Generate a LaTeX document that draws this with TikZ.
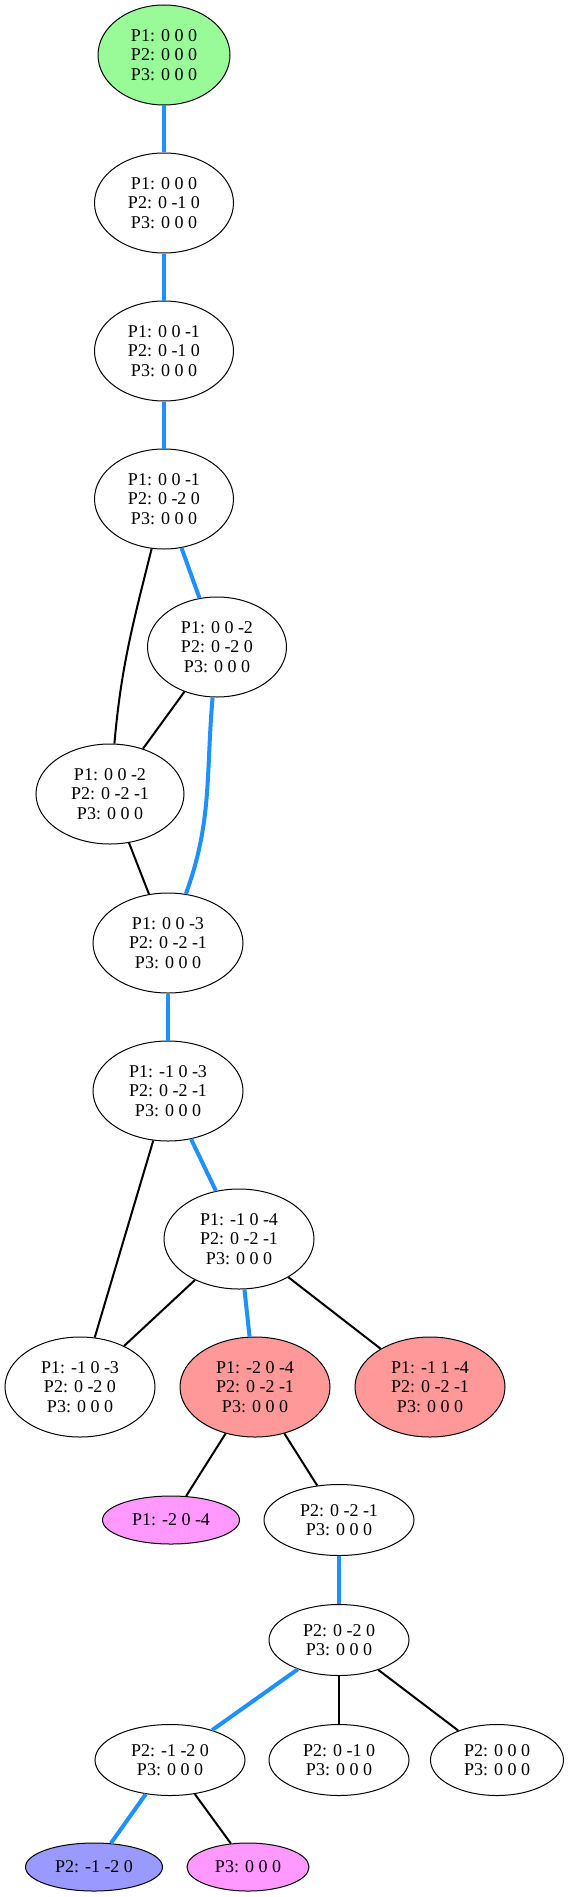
\documentclass[tikz,border=0pt]{standalone}
\usepackage{fontspec}
\setmainfont{Liberation Serif}
\usetikzlibrary{shapes.geometric}
\definecolor{pgreen}{RGB}{152,251,152}
\definecolor{pred}{RGB}{255,153,153}
\definecolor{pmag}{RGB}{255,153,255}
\definecolor{pblue}{RGB}{153,153,255}
\definecolor{dblue}{RGB}{30,144,255}
\begin{document}
\begin{tikzpicture}[x=1pt,y=-1pt,
  st/.style={ellipse,draw=black,line width=1pt,inner sep=0pt,align=center,
    font=\fontsize{18}{19.2}\selectfont},
  sz/.style 2 args={minimum width=#1pt,minimum height=#2pt},
  bl/.style={draw=dblue,line width=4pt},
  bk/.style={draw=black,line width=2pt}]
\useasboundingbox (0,0) rectangle (568,1897);
\node[st,fill=pgreen,sz={132}{100}] (n1) at (164,55) {P1: 0 0 0\\P2: 0 0 0\\P3: 0 0 0};
\node[st,sz={139}{100}] (n2) at (164,203) {P1: 0 0 0\\P2: 0 -1 0\\P3: 0 0 0};
\node[st,sz={139}{100}] (n3) at (164,351) {P1: 0 0 -1\\P2: 0 -1 0\\P3: 0 0 0};
\node[st,sz={139}{100}] (n4) at (164,499) {P1: 0 0 -1\\P2: 0 -2 0\\P3: 0 0 0};
\node[st,sz={139}{100}] (n5) at (217,647) {P1: 0 0 -2\\P2: 0 -2 0\\P3: 0 0 0};
\node[st,sz={148}{100}] (n6) at (110,794) {P1: 0 0 -2\\P2: 0 -2 -1\\P3: 0 0 0};
\node[st,sz={150}{100}] (n7) at (168,943) {P1: 0 0 -3\\P2: 0 -2 -1\\P3: 0 0 0};
\node[st,sz={150}{100}] (n8) at (168,1091) {P1: -1 0 -3\\P2: 0 -2 -1\\P3: 0 0 0};
\node[st,sz={150}{100}] (n9) at (239,1239) {P1: -1 0 -4\\P2: 0 -2 -1\\P3: 0 0 0};
\node[st,sz={150}{100}] (n10) at (80,1387) {P1: -1 0 -3\\P2: 0 -2 0\\P3: 0 0 0};
\node[st,fill=pred,sz={150}{100}] (n11) at (255,1387) {P1: -2 0 -4\\P2: 0 -2 -1\\P3: 0 0 0};
\node[st,fill=pred,sz={150}{100}] (n12) at (430,1387) {P1: -1 1 -4\\P2: 0 -2 -1\\P3: 0 0 0};
\node[st,fill=pmag,sz={137}{48}] (n13) at (171,1520) {P1: -2 0 -4};
\node[st,sz={150}{71}] (n14) at (339,1520) {P2: 0 -2 -1\\P3: 0 0 0};
\node[st,sz={140}{71}] (n15) at (339,1640) {P2: 0 -2 0\\P3: 0 0 0};
\node[st,sz={150}{71}] (n16) at (170,1760) {P2: -1 -2 0\\P3: 0 0 0};
\node[st,sz={140}{71}] (n17) at (339,1760) {P2: 0 -1 0\\P3: 0 0 0};
\node[st,sz={133}{71}] (n18) at (497,1760) {P2: 0 0 0\\P3: 0 0 0};
\node[st,fill=pblue,sz={137}{48}] (n19) at (94,1867) {P2: -1 -2 0};
\node[st,fill=pmag,sz={122}{48}] (n20) at (248,1867) {P3: 0 0 0};
\draw[bl] (n1) -- (n2);
\draw[bl] (n2) -- (n3);
\draw[bl] (n3) -- (n4);
\draw[bl] (n4) -- (n5);
\draw[bk] (n4) to[out=256,in=85] (n6);
\draw[bk] (n5) -- (n6);
\draw[bl] (n5) to[out=265,in=70] (n7);
\draw[bk] (n6) -- (n7);
\draw[bl] (n7) -- (n8);
\draw[bl] (n8) -- (n9);
\draw[bk] (n8) -- (n10);
\draw[bk] (n9) -- (n10);
\draw[bl] (n9) -- (n11);
\draw[bk] (n9) -- (n12);
\draw[bk] (n11) -- (n13);
\draw[bk] (n11) -- (n14);
\draw[bl] (n14) -- (n15);
\draw[bl] (n15) -- (n16);
\draw[bk] (n15) -- (n17);
\draw[bk] (n15) -- (n18);
\draw[bl] (n16) -- (n19);
\draw[bk] (n16) -- (n20);
\end{tikzpicture}
\end{document}
